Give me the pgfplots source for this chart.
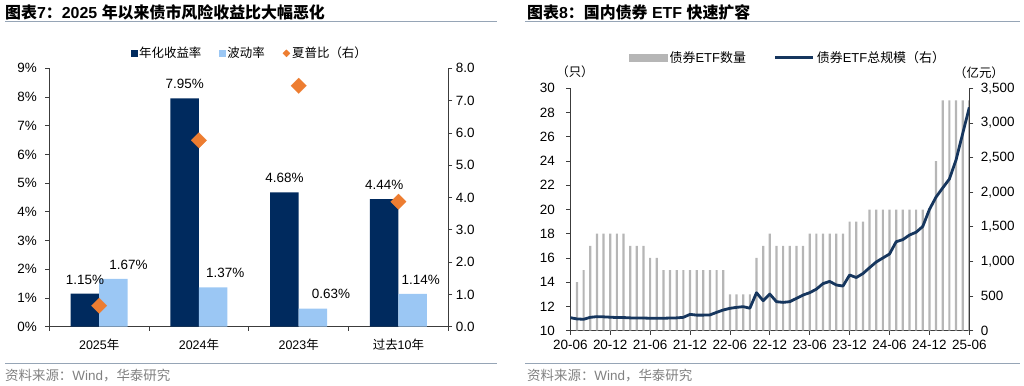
\documentclass[border=0pt]{standalone}
\usepackage{fontspec}
\setmainfont{Liberation Sans}
\newfontfamily\cjk{Noto Sans CJK SC}
\usepackage{pgfplots}
\pgfplotsset{compat=1.18}
\usepackage{pgfplotstable}
\newcommand\fs[1]{\fontsize{#1}{#1}\selectfont}
\definecolor{navy}{RGB}{0,42,94}
\definecolor{lightb}{RGB}{155,199,244}
\definecolor{orangeS}{RGB}{237,125,49}
\definecolor{grayb}{RGB}{182,182,182}
\definecolor{linec}{RGB}{22,54,94}
\definecolor{rulec}{RGB}{150,165,182}
\definecolor{axc}{RGB}{60,60,60}
\pgfplotsset{/pgf/number format/assume math mode=true}
\pgfplotstableread{
x y dx
0 1.67 15
1 1.37 12
2 0.63 18
3 1.14 8
}\volt
\begin{document}
\begin{tikzpicture}[x=1bp,y=1bp]
\path[use as bounding box] (0,0) rectangle (1024,385);
% ---- titles, rules, sources
\node[anchor=west, font=\fs{16}\bfseries, inner sep=0] at (5,373) {{\cjk 图表}7{\cjk ：}2025 {\cjk 年以来债市风险收益比大幅恶化}};
\node[anchor=west, font=\fs{16}\bfseries, inner sep=0] at (527,373) {{\cjk 图表}8{\cjk ：}{\cjk 国内债券} ETF {\cjk 快速扩容}};
\draw[rulec, line width=1bp] (5,363) -- (497,363);
\draw[rulec, line width=1bp] (525,363) -- (1020,363);
\draw[rulec, line width=1bp] (5,22) -- (497,22);
\draw[rulec, line width=1bp] (525,22) -- (1020,22);
\node[anchor=west, font=\fs{13.5}, text=black!50, inner sep=0] at (5,9) {{\cjk 资料来源：}Wind{\cjk ，华泰研究}};
\node[anchor=west, font=\fs{13.5}, text=black!50, inner sep=0] at (527,9) {{\cjk 资料来源：}Wind{\cjk ，华泰研究}};
\node[font=\cjk\fs{12.5}, inner sep=0] at (575,313) {（只）};
\node[font=\cjk\fs{12.5}, inner sep=0] at (979,312) {（亿元）};
% ---- left chart
\begin{axis}[
  at={(49.3bp,58.3bp)}, anchor=south west, scale only axis,
  width=399bp, height=258.4bp,
  xmin=-0.5, xmax=3.5, ymin=0, ymax=9,
  ybar=0pt, bar width=28.5bp,
  axis y line*=left, axis x line*=bottom,
  axis line style={draw=axc, line width=0.8bp},
  tick style={draw=axc, line width=0.8bp},
  tick align=outside, major tick length=4bp,
  xtick={-0.5,0.5,1.5,2.5,3.5}, xticklabels={,,,,},
  extra x ticks={0,1,2,3},
  extra x tick labels={2025{\cjk 年},2024{\cjk 年},2023{\cjk 年},{\cjk 过去}10{\cjk 年}},
  extra x tick style={major tick length=0pt},
  xticklabel style={font=\fs{12.5}, yshift=-9bp},
  ytick={0,1,...,9},
  yticklabel={\pgfmathprintnumber{\tick}\%},
  yticklabel style={font=\fs{13.5}, xshift=-5bp},
  nodes near coords={\pgfmathprintnumber[fixed,precision=2,fixed zerofill]{\pgfplotspointmeta}\%},
  every node near coord/.append style={font=\fs{13.5}, yshift=6bp},
]
\addplot[fill=navy, draw=none] coordinates {(0,1.15) (1,7.95) (2,4.68) (3,4.44)};
\addplot[fill=lightb, draw=none,
  visualization depends on={\thisrow{dx}\as\dx},
  every node near coord/.append style={xshift=\dx*1bp}] table[x=x,y=y] {\volt};
\end{axis}
\begin{axis}[
  at={(49.3bp,58.3bp)}, anchor=south west, scale only axis,
  width=399bp, height=258.4bp,
  xmin=-0.5, xmax=3.5, ymin=0, ymax=8,
  axis x line=none, axis y line*=right,
  axis line style={draw=axc, line width=0.8bp},
  tick style={draw=axc, line width=0.8bp},
  tick align=outside, major tick length=4bp,
  ytick={0,1,...,8},
  yticklabel style={font=\fs{13.5}, /pgf/number format/.cd, fixed, fixed zerofill, precision=1},
  legend style={at={(0.503,1.058)}, anchor=center, draw=none, fill=none,
    font=\cjk\fs{12.5}, legend columns=-1,
    /tikz/every even column/.append style={column sep=16bp}},
]
\addlegendimage{legend image code/.code={\fill[navy] (0bp,-2.8bp) rectangle (5.6bp,2.8bp);}}
\addlegendentry{年化收益率}
\addlegendimage{legend image code/.code={\fill[lightb] (0bp,-2.8bp) rectangle (5.6bp,2.8bp);}}
\addlegendentry{波动率}
\addlegendimage{legend image code/.code={\fill[orangeS] (2.8bp,-3.5bp) -- (6.3bp,0) -- (2.8bp,3.5bp) -- (-0.7bp,0) -- cycle;}}
\addlegendentry{夏普比（右）}
\addplot[forget plot, only marks, mark=square*, mark size=5.5bp,
  mark options={rotate=45, fill=orangeS, draw=orangeS, line width=0.1bp}]
  coordinates {(0,0.65) (1,5.77) (2,7.46) (3,3.87)};
\end{axis}
% ---- right chart
\begin{axis}[
  at={(570.3bp,54.3bp)}, anchor=south west, scale only axis,
  width=399bp, height=242.4bp,
  xmin=0, xmax=60, ymin=10, ymax=30,
  ybar, bar width=2.2bp,
  axis y line*=left, axis x line*=bottom,
  axis line style={draw=axc, line width=0.8bp},
  tick style={draw=axc, line width=0.8bp},
  tick align=outside, major tick length=4bp,
  xtick={0,6,...,60},
  xticklabels={20-06,20-12,21-06,21-12,22-06,22-12,23-06,23-12,24-06,24-12,25-06},
  xticklabel style={font=\fs{13.5}, yshift=-2bp},
  ytick={10,12,...,30},
  yticklabel style={font=\fs{13.5}, xshift=-8bp},
]
\addplot[fill=grayb, draw=none] coordinates {
(1,14)(2,15)(3,17)(4,18)(5,18)(6,18)(7,18)(8,18)(9,17)(10,17)(11,17)(12,16)(13,16)
(14,15)(15,15)(16,15)(17,15)(18,15)(19,15)(20,15)(21,15)(22,15)(23,15)
(24,13)(25,13)(26,13)(27,13)(28,16)(29,17)(30,18)
(31,17)(32,17)(33,17)(34,17)(35,17)
(36,18)(37,18)(38,18)(39,18)(40,18)(41,18)
(42,19)(43,19)(44,19)
(45,20)(46,20)(47,20)(48,20)(49,20)(50,20)(51,20)(52,20)(53,20)(54,20)
(55,24)(56,29)(57,29)(58,29)(59,29)(60,29)};
\end{axis}
\begin{axis}[
  at={(570.3bp,54.3bp)}, anchor=south west, scale only axis,
  width=399bp, height=242.4bp,
  xmin=0, xmax=60, ymin=0, ymax=3500,
  axis x line=none, axis y line*=right,
  axis line style={draw=axc, line width=0.8bp},
  tick style={draw=axc, line width=0.8bp},
  tick align=outside, major tick length=4bp,
  scaled y ticks=false,
  ytick={0,500,...,3500},
  yticklabel style={font=\fs{13.5}, xshift=4bp},
  legend style={at={(0.546,1.125)}, anchor=center, draw=none, fill=none,
    font=\fs{13}, legend columns=-1,
    /tikz/every even column/.append style={column sep=26bp}},
]
\addlegendimage{legend image code/.code={\fill[grayb] (0bp,-3.5bp) rectangle (38bp,3.5bp);}}
\addlegendentry{{\cjk 债券}ETF{\cjk 数量}}
\addlegendimage{legend image code/.code={\draw[linec, line width=3bp] (0bp,0) -- (38bp,0);}}
\addlegendentry{{\cjk 债券}ETF{\cjk 总规模（右）}}
\addplot[forget plot, linec, line width=2.8bp, line join=round, mark=none] coordinates {
(0,188)(1,170)(2,165)(3,193)(4,203)(5,200)(6,195)(7,190)(8,190)(9,185)(10,183)
(11,183)(12,180)(13,180)(14,180)(15,183)(16,185)(17,193)(18,236)(19,225)(20,225)
(21,228)(22,265)(23,299)(24,323)(25,337)(26,347)(27,325)(28,548)(29,433)(30,529)
(31,419)(32,409)(33,419)(34,467)(35,515)(36,549)(37,600)(38,680)(39,712)(40,660)
(41,645)(42,804)(43,768)(44,825)(45,910)(46,992)(47,1050)(48,1107)(49,1285)(50,1315)
(51,1381)(52,1422)(53,1505)(54,1750)(55,1930)(56,2062)(57,2190)(58,2464)(59,2845)(60,3224)};
\end{axis}
\end{tikzpicture}
\end{document}
